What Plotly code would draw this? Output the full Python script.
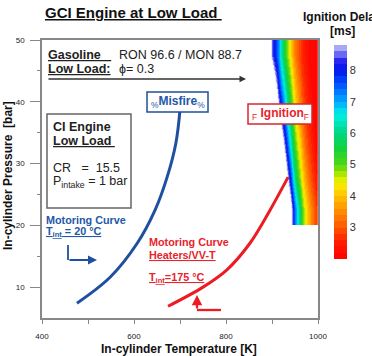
import plotly.graph_objects as go

# ---------------- data ----------------
# Motoring curves (temperature [K], pressure [bar])
blue_T = [476, 548, 607, 646, 672, 691, 700]
blue_P = [7.4, 11.6, 17.1, 22.5, 27.8, 33.3, 38.7]
red_T = [674, 750, 802, 852, 896, 935]
red_P = [6.9, 10.0, 12.8, 17.1, 22.5, 27.8]

# Ignition delay map [ms] (cell edges + values; > 8.8 = blank)
map_T_edges = [880, 890, 900, 910, 920, 930, 940, 950, 960, 970, 980, 990, 1000]
map_P_edges = [20, 25, 30, 35, 40, 45, 50]
map_delay = [
    [16, 16, 16, 14.2, 12.2, 10.2, 8.2, 6.6, 5.1, 4.2, 3.4, 2.85],
    [16, 16, 14.6, 12.6, 10.6, 8.6, 6.8, 5.3, 4.35, 3.55, 2.9, 2.45],
    [16, 15, 13.1, 11.1, 9.18, 7.3, 5.7, 4.65, 3.8, 3.05, 2.6, 2.15],
    [14.8, 12.8, 10.8, 9.25, 7.75, 6.2, 5.0, 4.0, 3.25, 2.7, 2.3, 1.95],
    [12.8, 11.2, 9.5, 7.9, 6.7, 5.4, 4.35, 3.55, 2.9, 2.5, 2.15, 1.9],
    [10.8, 9.1, 8.0, 7.0, 5.7, 4.6, 3.75, 3.05, 2.6, 2.3, 2.0, 1.8],
]

x_ticks = [400, 600, 800, 1000]
x_minor = [500, 700, 900]
y_ticks = [10, 20, 30, 40, 50]
y_minor = [15, 25, 35, 45]
cb_ticks = [3, 4, 5, 6, 7, 8]

# ---------------- styling helpers ----------------
W, H = 372, 356
L, R, T, B = 42, 318, 40, 318
XMIN, XMAX, YMIN, YMAX = 400, 1000, 5, 50


def X(px):
    return XMIN + (px - L) * (XMAX - XMIN) / (R - L)


def Y(py):
    return YMAX - (py - T) * (YMAX - YMIN) / (B - T)


anchors = [
    (2.0, (255, 0, 0)), (2.6, (255, 35, 0)), (3.0, (255, 85, 0)),
    (3.5, (255, 140, 0)), (4.0, (255, 195, 0)), (4.4, (250, 240, 0)),
    (4.7, (170, 230, 0)), (5.0, (80, 215, 20)), (5.5, (20, 210, 60)),
    (6.0, (0, 215, 130)), (6.6, (0, 240, 230)), (7.0, (0, 170, 255)),
    (7.5, (0, 90, 255)), (8.0, (0, 20, 235)), (8.3, (40, 40, 240)),
    (8.55, (120, 120, 245)), (8.8, (200, 200, 248)),
]


def col_at(v):
    for (v0, c0), (v1, c1) in zip(anchors[:-1], anchors[1:]):
        if v <= v1:
            f = (v - v0) / (v1 - v0)
            return "rgb(%d,%d,%d)" % tuple(round(a + (b - a) * f) for a, b in zip(c0, c1))
    return "rgb(%d,%d,%d)" % anchors[-1][1]


CMIN, CTOP, ZMAX = 2.0, 8.8, 9.2
step = 0.2
edges = [CMIN + i * step for i in range(int(round((CTOP - CMIN) / step)) + 1)]
bands = [(a, b, col_at((a + b) / 2)) for a, b in zip(edges[:-1], edges[1:])]


def make_scale(lo, hi, extra_white):
    sc = []
    for a, b, c in bands:
        sc.append([(a - lo) / (hi - lo), c])
        sc.append([(b - lo) / (hi - lo), c])
    if extra_white:
        sc.append([(CTOP - lo) / (hi - lo), "white"])
        sc.append([1.0, "white"])
    sc[0][0] = 0.0
    sc[-1][0] = 1.0
    return sc


FONT = "Arial, Liberation Sans, sans-serif"
BLUE = "#1f4f9f"
BLUE_T = "#2458a8"
RED = "#ec1c24"
RED_T = "#e8242c"
DARK = "#222222"

fig = go.Figure()

fig.add_trace(go.Heatmap(
    x=map_T_edges, y=map_P_edges, z=map_delay, zsmooth="best",
    colorscale=make_scale(CMIN, ZMAX, True), zmin=CMIN, zmax=ZMAX,
    showscale=False, hoverinfo="skip"))

fig.add_trace(go.Scatter(
    x=blue_T, y=blue_P, mode="lines", line=dict(color=BLUE, width=3, shape="spline"),
    hoverinfo="skip", showlegend=False))
fig.add_trace(go.Scatter(
    x=red_T, y=red_P, mode="lines", line=dict(color=RED, width=3, shape="spline"),
    hoverinfo="skip", showlegend=False))

# colour bar only
fig.add_trace(go.Scatter(
    x=[None], y=[None], mode="markers", showlegend=False, hoverinfo="skip",
    marker=dict(color=[CMIN], cmin=CMIN, cmax=CTOP, colorscale=make_scale(CMIN, CTOP, False),
                showscale=True,
                colorbar=dict(x=(334 - L) / (R - L), xanchor="left", xpad=0,
                              y=(B - 152) / (B - T), yanchor="middle", ypad=0,
                              len=214, lenmode="pixels", thickness=13,
                              outlinewidth=0, ticks="", tickvals=cb_ticks,
                              tickfont=dict(size=11, color="#333", family=FONT)))))

fig.update_xaxes(range=[XMIN, XMAX], tickvals=x_ticks, ticks="outside", ticklen=4,
                 tickcolor="#888", tickwidth=1, showline=True, linecolor="#888", linewidth=1.5,
                 mirror=True, showgrid=False, zeroline=False,
                 tickfont=dict(size=8, color="#222", family=FONT), ticklabelstandoff=6,
                 minor=dict(tickvals=x_minor, ticks="outside", ticklen=4, tickcolor="#888"))
fig.update_yaxes(range=[YMIN, YMAX], tickvals=y_ticks, ticks="outside", ticklen=10,
                 tickcolor="#888", tickwidth=1, showline=True, linecolor="#888", linewidth=1.5,
                 mirror=True, showgrid=False, zeroline=False,
                 tickfont=dict(size=8, color="#222", family=FONT), ticklabelstandoff=4,
                 minor=dict(tickvals=y_minor, ticks="outside", ticklen=3, tickcolor="#888"))

ann = []


def text(px, py, s, size=12, color=DARK, anchor="left", **kw):
    ann.append(dict(x=X(px), y=Y(py), xref="x", yref="y", text=s, showarrow=False,
                    xanchor=anchor, yanchor="middle",
                    font=dict(size=size, color=color, family=FONT), **kw))


def ptext(px, py, s, size=12, color=DARK, anchor="center", angle=0):
    ann.append(dict(x=(px - L) / (R - L), y=(B - py) / (B - T), xref="paper", yref="paper",
                    text=s, showarrow=False, xanchor=anchor, yanchor="middle", textangle=angle,
                    font=dict(size=size, color=color, family=FONT)))


NB = "\u00a0"
ptext(133, 13, "<b><u>GCI Engine at Low Load" + NB + "</u></b>", size=15, color="#111")
ptext(342, 17, "<b>Ignition Delay</b>", size=12, color="#111")
ptext(342, 31, "<b>[ms]</b>", size=12, color="#111")
ptext(179, 349, "<b>In-cylinder Temperature [K]</b>", size=12, color="#111")
ptext(8, 176, "<b>In-cylinder Pressure  [bar]</b>", size=12, color="#111", angle=-90)

text(46, 55, "<b><u>Gasoline" + NB * 3 + "</u></b>", size=12.5)
text(117, 55, "RON 96.6 / MON 88.7", size=12.5)
text(46, 69, "<b><u>Low Load:</u></b>", size=12.5)
text(117, 69, "\u03d5= 0.3", size=12.5)

# CI engine box
text(51, 127, "<b>CI Engine</b>", size=12.5)
text(51, 141, "<b><u>Low Load" + NB + "</u></b>", size=12.5)
text(51, 168, "CR" + NB * 3 + "=" + NB * 2 + "15.5", size=12.5)
text(51, 182, "P<sub>intake</sub> = 1 bar", size=12.5)

# motoring curve labels
text(44, 220, "<b>Motoring Curve</b>", size=10.8, color=BLUE_T)
text(44, 232, "<b><u>T<sub>int</sub> = 20 \u00b0C</u></b>", size=10.8, color=BLUE_T)
text(147, 242, "<b>Motoring Curve</b>", size=10.8, color=RED_T)
text(147, 255, "<b><u>Heaters/VV-T</u></b>", size=10.8, color=RED_T)
text(147, 278, "<b><u>T<sub>int</sub>=175 \u00b0C</u></b>", size=10.8, color=RED_T)

# boxes' labels
text(177.5, 102, "<sub>%</sub><b>Misfire</b><sub>%</sub>", size=12, color=BLUE_T, anchor="center")
text(280, 114, "<sub>F</sub> <b>Ignition</b><sub>F</sub>", size=12, color=RED_T, anchor="center")

# arrows
ann.append(dict(x=X(246), y=Y(79), ax=X(47), ay=Y(79), xref="x", yref="y", axref="x", ayref="y",
                text="", showarrow=True, arrowhead=2, arrowsize=1, arrowwidth=1.3, arrowcolor="#333"))
ann.append(dict(x=X(97), y=Y(260), ax=X(68), ay=Y(260), xref="x", yref="y", axref="x", ayref="y",
                text="", showarrow=True, arrowhead=2, arrowsize=1, arrowwidth=1.8, arrowcolor=BLUE))
ann.append(dict(x=X(197), y=Y(295), ax=X(197), ay=Y(310), xref="x", yref="y", axref="x", ayref="y",
                text="", showarrow=True, arrowhead=2, arrowsize=0.9, arrowwidth=2.3, arrowcolor=RED))

shapes = [
    dict(type="rect", x0=X(47), x1=X(131), y0=Y(114), y1=Y(208), xref="x", yref="y",
         line=dict(color="#666", width=1.5), fillcolor="white", layer="below"),
    dict(type="rect", x0=X(147), x1=X(208), y0=Y(92), y1=Y(112), xref="x", yref="y",
         line=dict(color=BLUE, width=1.5), fillcolor="white", layer="above"),
    dict(type="rect", x0=X(248), x1=X(312), y0=Y(104), y1=Y(124), xref="x", yref="y",
         line=dict(color="#d8262c", width=1.5), fillcolor="white", layer="above"),
    dict(type="line", x0=X(68), x1=X(68), y0=Y(245), y1=Y(260), xref="x", yref="y",
         line=dict(color=BLUE, width=1.8)),
    dict(type="line", x0=X(197), x1=X(221), y0=Y(310), y1=Y(310), xref="x", yref="y",
         line=dict(color=RED, width=2.3)),
]

fig.update_layout(
    width=W, height=H, margin=dict(l=L, r=W - R, t=T, b=H - B, pad=0),
    paper_bgcolor="white", plot_bgcolor="white", showlegend=False,
    annotations=ann, shapes=shapes, font=dict(family=FONT))

fig.write_html("out.html")
